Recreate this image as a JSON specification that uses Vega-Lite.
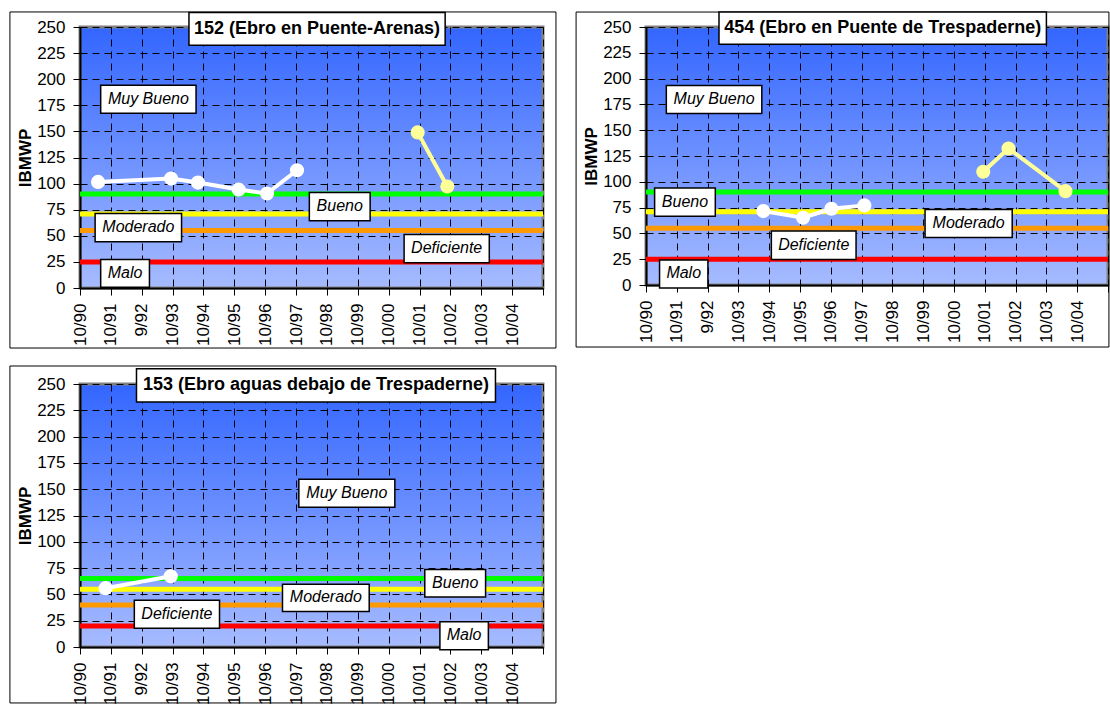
{
  "$schema": "https://vega.github.io/schema/vega-lite/v6.json",
  "background": "white",
  "padding": {"left": 7, "top": 9, "right": 0, "bottom": 0},
  "spacing": 13,
  "datasets": {
    "marco1": [{"x0": -2.27, "x1": 15.42, "y0": -57.5, "y1": 264.4}],
    "marco2": [{"x0": -2.27, "x1": 15.03, "y0": -60.1, "y1": 264.5}],
    "marco3": [{"x0": -2.27, "x1": 15.42, "y0": -53.2, "y1": 267.1}],
    "umbral1": [
      {"v": 90, "nivel": "verde"}, {"v": 71, "nivel": "amarillo"},
      {"v": 55, "nivel": "naranja"}, {"v": 25, "nivel": "rojo"}
    ],
    "umbral2": [
      {"v": 90, "nivel": "verde"}, {"v": 71, "nivel": "amarillo"},
      {"v": 55, "nivel": "naranja"}, {"v": 25, "nivel": "rojo"}
    ],
    "umbral3": [
      {"v": 65, "nivel": "verde"}, {"v": 55, "nivel": "amarillo"},
      {"v": 40, "nivel": "naranja"}, {"v": 20, "nivel": "rojo"}
    ],
    "serie1": [
      {"t": 0.585, "v": 101.6, "serie": "blanca"},
      {"t": 2.95, "v": 104.8, "serie": "blanca"},
      {"t": 3.82, "v": 101.0, "serie": "blanca"},
      {"t": 5.14, "v": 94.3, "serie": "blanca"},
      {"t": 6.06, "v": 90.5, "serie": "blanca"},
      {"t": 7.03, "v": 112.8, "serie": "blanca"},
      {"t": 10.94, "v": 149.0, "serie": "amarilla"},
      {"t": 11.9, "v": 97.2, "serie": "amarilla"}
    ],
    "serie2": [
      {"t": 3.81, "v": 71.6, "serie": "blanca"},
      {"t": 5.10, "v": 65.2, "serie": "blanca"},
      {"t": 6.02, "v": 73.9, "serie": "blanca"},
      {"t": 7.09, "v": 77.1, "serie": "blanca"},
      {"t": 10.95, "v": 109.7, "serie": "amarilla"},
      {"t": 11.77, "v": 132.3, "serie": "amarilla"},
      {"t": 13.62, "v": 90.9, "serie": "amarilla"}
    ],
    "serie3": [
      {"t": 0.83, "v": 55.9, "serie": "blanca"},
      {"t": 2.94, "v": 67.3, "serie": "blanca"}
    ],
    "etiq1": [
      {"tipo": "titulo", "texto": "152 (Ebro en Puente-Arenas)", "x0": 3.53, "x1": 11.83, "y0": 232.5, "y1": 264, "xm": 7.68, "ym": 248.25},
      {"tipo": "nivel", "texto": "Muy Bueno", "x0": 0.67, "x1": 3.76, "y0": 167.3, "y1": 194.3, "xm": 2.215, "ym": 181.5},
      {"tipo": "nivel", "texto": "Bueno", "x0": 7.43, "x1": 9.40, "y0": 64.4, "y1": 91.4, "xm": 8.415, "ym": 78.6},
      {"tipo": "nivel", "texto": "Moderado", "x0": 0.49, "x1": 3.29, "y0": 44.4, "y1": 71.4, "xm": 1.89, "ym": 58.6},
      {"tipo": "nivel", "texto": "Deficiente", "x0": 10.5, "x1": 13.26, "y0": 24.1, "y1": 51.2, "xm": 11.88, "ym": 38.4},
      {"tipo": "nivel", "texto": "Malo", "x0": 0.67, "x1": 2.25, "y0": 0.6, "y1": 27.3, "xm": 1.46, "ym": 14.6}
    ],
    "etiq2": [
      {"tipo": "titulo", "texto": "454 (Ebro en Puente de Trespaderne)", "x0": 2.37, "x1": 13.0, "y0": 233.2, "y1": 264.5, "xm": 7.685, "ym": 248.85},
      {"tipo": "nivel", "texto": "Muy Bueno", "x0": 0.66, "x1": 3.76, "y0": 166.1, "y1": 193.2, "xm": 2.21, "ym": 180.3},
      {"tipo": "nivel", "texto": "Bueno", "x0": 0.28, "x1": 2.25, "y0": 66.5, "y1": 93.9, "xm": 1.265, "ym": 80.9},
      {"tipo": "nivel", "texto": "Moderado", "x0": 9.06, "x1": 11.89, "y0": 46.1, "y1": 73.2, "xm": 10.475, "ym": 60.3},
      {"tipo": "nivel", "texto": "Deficiente", "x0": 4.07, "x1": 6.82, "y0": 24.8, "y1": 52.3, "xm": 5.445, "ym": 39.2},
      {"tipo": "nivel", "texto": "Malo", "x0": 0.44, "x1": 2.01, "y0": -2.9, "y1": 24.2, "xm": 1.225, "ym": 11.3}
    ],
    "etiq3": [
      {"tipo": "titulo", "texto": "153 (Ebro aguas debajo de Trespaderne)", "x0": 1.83, "x1": 13.46, "y0": 233, "y1": 264.6, "xm": 7.645, "ym": 248.8},
      {"tipo": "nivel", "texto": "Muy Bueno", "x0": 7.09, "x1": 10.2, "y0": 132.8, "y1": 159.5, "xm": 8.645, "ym": 146.8},
      {"tipo": "nivel", "texto": "Bueno", "x0": 11.17, "x1": 13.14, "y0": 47.6, "y1": 73.7, "xm": 12.155, "ym": 61.3},
      {"tipo": "nivel", "texto": "Moderado", "x0": 6.56, "x1": 9.37, "y0": 33.7, "y1": 59.7, "xm": 7.965, "ym": 47.3},
      {"tipo": "nivel", "texto": "Deficiente", "x0": 1.76, "x1": 4.52, "y0": 17.8, "y1": 44.5, "xm": 3.14, "ym": 31.8},
      {"tipo": "nivel", "texto": "Malo", "x0": 11.66, "x1": 13.23, "y0": -2.5, "y1": 24.1, "xm": 12.445, "ym": 11.4}
    ]
  },
  "vconcat": [
    {
      "hconcat": [
        {
          "width": 463, "height": 261,
          "layer": [
            {"data": {"name": "marco1"}, "mark": {"type": "rect", "fill": "white", "fillOpacity": 0, "stroke": "black", "strokeWidth": 1},
             "encoding": {
               "x": {"field": "x0", "type": "quantitative", "scale": {"domain": [0, 15], "nice": false, "zero": false}, "title": null},
               "x2": {"field": "x1"},
               "y": {"field": "y0", "type": "quantitative", "scale": {"domain": [0, 250], "nice": false}, "title": "IBMWP", "axis": {"values": [0,25,50,75,100,125,150,175,200,225,250]}},
               "y2": {"field": "y1"}}},
            {"data": {"name": "umbral1"}, "mark": {"type": "rule", "strokeWidth": 5},
             "encoding": {"y": {"field": "v", "type": "quantitative", "title": "IBMWP", "axis": {"values": [0,25,50,75,100,125,150,175,200,225,250]}},
                          "color": {"field": "nivel", "type": "nominal", "legend": null,
                                    "scale": {"domain": ["verde","amarillo","naranja","rojo","blanca","amarilla"], "range": ["#00FF00","#FFFF00","#FF9900","#FF0000","#FFFFFF","#FFFF99"]}}}},
            {"data": {"name": "serie1"}, "mark": {"type": "line", "strokeWidth": 4, "point": {"filled": true, "size": 200, "opacity": 1}},
             "encoding": {"x": {"field": "t", "type": "quantitative", "title": null},
                          "y": {"field": "v", "type": "quantitative", "title": "IBMWP", "axis": {"values": [0,25,50,75,100,125,150,175,200,225,250]}},
                          "color": {"field": "serie", "type": "nominal", "legend": null,
                                    "scale": {"domain": ["verde","amarillo","naranja","rojo","blanca","amarilla"], "range": ["#00FF00","#FFFF00","#FF9900","#FF0000","#FFFFFF","#FFFF99"]}}}},
            {"data": {"name": "etiq1"}, "mark": {"type": "rect", "fill": "white", "stroke": "black", "strokeWidth": 1.5},
             "encoding": {"x": {"field": "x0", "type": "quantitative", "title": null}, "x2": {"field": "x1"},
                          "y": {"field": "y0", "type": "quantitative", "title": "IBMWP", "axis": {"values": [0,25,50,75,100,125,150,175,200,225,250]}}, "y2": {"field": "y1"}}},
            {"data": {"name": "etiq1"}, "transform": [{"filter": "datum.tipo === 'nivel'"}],
             "mark": {"type": "text", "fontStyle": "italic", "fontSize": 16, "font": "Liberation Sans", "color": "black"},
             "encoding": {"x": {"field": "xm", "type": "quantitative", "title": null}, "y": {"field": "ym", "type": "quantitative", "title": "IBMWP", "axis": {"values": [0,25,50,75,100,125,150,175,200,225,250]}}, "text": {"field": "texto"}}},
            {"data": {"name": "etiq1"}, "transform": [{"filter": "datum.tipo === 'titulo'"}],
             "mark": {"type": "text", "fontWeight": "bold", "fontSize": 18, "font": "Liberation Sans", "color": "black"},
             "encoding": {"x": {"field": "xm", "type": "quantitative", "title": null}, "y": {"field": "ym", "type": "quantitative", "title": "IBMWP", "axis": {"values": [0,25,50,75,100,125,150,175,200,225,250]}}, "text": {"field": "texto"}}}
          ]
        },
        {
          "width": 462, "height": 258,
          "layer": [
            {"data": {"name": "marco2"}, "mark": {"type": "rect", "fill": "white", "fillOpacity": 0, "stroke": "black", "strokeWidth": 1},
             "encoding": {
               "x": {"field": "x0", "type": "quantitative", "scale": {"domain": [0, 15], "nice": false, "zero": false}, "title": null},
               "x2": {"field": "x1"},
               "y": {"field": "y0", "type": "quantitative", "scale": {"domain": [0, 250], "nice": false}, "title": "IBMWP", "axis": {"values": [0,25,50,75,100,125,150,175,200,225,250]}},
               "y2": {"field": "y1"}}},
            {"data": {"name": "umbral2"}, "mark": {"type": "rule", "strokeWidth": 5},
             "encoding": {"y": {"field": "v", "type": "quantitative", "title": "IBMWP", "axis": {"values": [0,25,50,75,100,125,150,175,200,225,250]}},
                          "color": {"field": "nivel", "type": "nominal", "legend": null,
                                    "scale": {"domain": ["verde","amarillo","naranja","rojo","blanca","amarilla"], "range": ["#00FF00","#FFFF00","#FF9900","#FF0000","#FFFFFF","#FFFF99"]}}}},
            {"data": {"name": "serie2"}, "mark": {"type": "line", "strokeWidth": 4, "point": {"filled": true, "size": 200, "opacity": 1}},
             "encoding": {"x": {"field": "t", "type": "quantitative", "title": null},
                          "y": {"field": "v", "type": "quantitative", "title": "IBMWP", "axis": {"values": [0,25,50,75,100,125,150,175,200,225,250]}},
                          "color": {"field": "serie", "type": "nominal", "legend": null,
                                    "scale": {"domain": ["verde","amarillo","naranja","rojo","blanca","amarilla"], "range": ["#00FF00","#FFFF00","#FF9900","#FF0000","#FFFFFF","#FFFF99"]}}}},
            {"data": {"name": "etiq2"}, "mark": {"type": "rect", "fill": "white", "stroke": "black", "strokeWidth": 1.5},
             "encoding": {"x": {"field": "x0", "type": "quantitative", "title": null}, "x2": {"field": "x1"},
                          "y": {"field": "y0", "type": "quantitative", "title": "IBMWP", "axis": {"values": [0,25,50,75,100,125,150,175,200,225,250]}}, "y2": {"field": "y1"}}},
            {"data": {"name": "etiq2"}, "transform": [{"filter": "datum.tipo === 'nivel'"}],
             "mark": {"type": "text", "fontStyle": "italic", "fontSize": 16, "font": "Liberation Sans", "color": "black"},
             "encoding": {"x": {"field": "xm", "type": "quantitative", "title": null}, "y": {"field": "ym", "type": "quantitative", "title": "IBMWP", "axis": {"values": [0,25,50,75,100,125,150,175,200,225,250]}}, "text": {"field": "texto"}}},
            {"data": {"name": "etiq2"}, "transform": [{"filter": "datum.tipo === 'titulo'"}],
             "mark": {"type": "text", "fontWeight": "bold", "fontSize": 18, "font": "Liberation Sans", "color": "black"},
             "encoding": {"x": {"field": "xm", "type": "quantitative", "title": null}, "y": {"field": "ym", "type": "quantitative", "title": "IBMWP", "axis": {"values": [0,25,50,75,100,125,150,175,200,225,250]}}, "text": {"field": "texto"}}}
          ]
        }
      ],
      "spacing": 16
    },
    {
      "width": 463, "height": 263,
      "layer": [
        {"data": {"name": "marco3"}, "mark": {"type": "rect", "fill": "white", "fillOpacity": 0, "stroke": "black", "strokeWidth": 1},
         "encoding": {
           "x": {"field": "x0", "type": "quantitative", "scale": {"domain": [0, 15], "nice": false, "zero": false}, "title": null},
           "x2": {"field": "x1"},
           "y": {"field": "y0", "type": "quantitative", "scale": {"domain": [0, 250], "nice": false}, "title": "IBMWP", "axis": {"values": [0,25,50,75,100,125,150,175,200,225,250]}},
           "y2": {"field": "y1"}}},
        {"data": {"name": "umbral3"}, "mark": {"type": "rule", "strokeWidth": 5},
         "encoding": {"y": {"field": "v", "type": "quantitative", "title": "IBMWP", "axis": {"values": [0,25,50,75,100,125,150,175,200,225,250]}},
                      "color": {"field": "nivel", "type": "nominal", "legend": null,
                                "scale": {"domain": ["verde","amarillo","naranja","rojo","blanca","amarilla"], "range": ["#00FF00","#FFFF00","#FF9900","#FF0000","#FFFFFF","#FFFF99"]}}}},
        {"data": {"name": "serie3"}, "mark": {"type": "line", "strokeWidth": 4, "point": {"filled": true, "size": 200, "opacity": 1}},
         "encoding": {"x": {"field": "t", "type": "quantitative", "title": null},
                      "y": {"field": "v", "type": "quantitative", "title": "IBMWP", "axis": {"values": [0,25,50,75,100,125,150,175,200,225,250]}},
                      "color": {"field": "serie", "type": "nominal", "legend": null,
                                "scale": {"domain": ["verde","amarillo","naranja","rojo","blanca","amarilla"], "range": ["#00FF00","#FFFF00","#FF9900","#FF0000","#FFFFFF","#FFFF99"]}}}},
        {"data": {"name": "etiq3"}, "mark": {"type": "rect", "fill": "white", "stroke": "black", "strokeWidth": 1.5},
         "encoding": {"x": {"field": "x0", "type": "quantitative", "title": null}, "x2": {"field": "x1"},
                      "y": {"field": "y0", "type": "quantitative", "title": "IBMWP", "axis": {"values": [0,25,50,75,100,125,150,175,200,225,250]}}, "y2": {"field": "y1"}}},
        {"data": {"name": "etiq3"}, "transform": [{"filter": "datum.tipo === 'nivel'"}],
         "mark": {"type": "text", "fontStyle": "italic", "fontSize": 16, "font": "Liberation Sans", "color": "black"},
         "encoding": {"x": {"field": "xm", "type": "quantitative", "title": null}, "y": {"field": "ym", "type": "quantitative", "title": "IBMWP", "axis": {"values": [0,25,50,75,100,125,150,175,200,225,250]}}, "text": {"field": "texto"}}},
        {"data": {"name": "etiq3"}, "transform": [{"filter": "datum.tipo === 'titulo'"}],
         "mark": {"type": "text", "fontWeight": "bold", "fontSize": 18, "font": "Liberation Sans", "color": "black"},
         "encoding": {"x": {"field": "xm", "type": "quantitative", "title": null}, "y": {"field": "ym", "type": "quantitative", "title": "IBMWP", "axis": {"values": [0,25,50,75,100,125,150,175,200,225,250]}}, "text": {"field": "texto"}}}
      ]
    }
  ],
  "config": {
    "font": "Liberation Sans",
    "view": {
      "stroke": "#808080",
      "strokeWidth": 3,
      "fill": {"gradient": "linear", "x1": 0, "y1": 0, "x2": 0, "y2": 1,
               "stops": [{"offset": 0, "color": "#3366FF"}, {"offset": 1, "color": "#A6BBFF"}]}
    },
    "axis": {
      "domainColor": "black", "domainWidth": 2,
      "tickColor": "black", "tickSize": 7, "tickWidth": 1,
      "labelColor": "black", "labelFont": "Liberation Sans", "labelFontSize": 17,
      "gridColor": "black", "gridDash": [7, 5], "gridWidth": 1, "gridOpacity": 1,
      "titleColor": "black", "titleFont": "Liberation Sans"
    },
    "axisX": {
      "tickCount": 15, "labelAngle": 270, "labelPadding": 8, "labelOverlap": false, "labelFlush": false,
      "labelExpr": "datum.value < 15 ? ['10/90','10/91','9/92','10/93','10/94','10/95','10/96','10/97','10/98','10/99','10/00','10/01','10/02','10/03','10/04'][datum.value] : ''"
    },
    "axisY": {"labelPadding": 8, "labelOverlap": false, "labelFlush": false, "titleFontSize": 17, "titleFontWeight": "bold", "titlePadding": 2}
  }
}
